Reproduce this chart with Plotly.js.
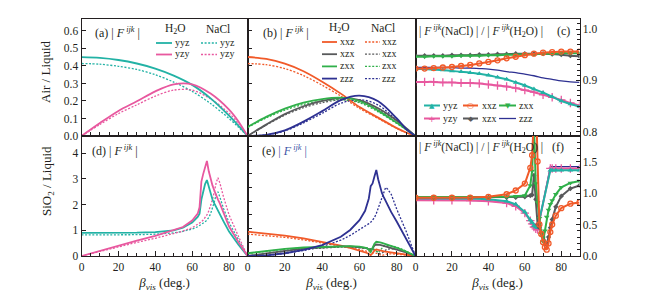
<!DOCTYPE html>
<html><head><meta charset="utf-8">
<script src="https://cdn.plot.ly/plotly-3.0.1.min.js"></script>
<style>html,body{margin:0;padding:0;background:#fff}#chart{width:669px;height:300px}</style>
</head><body><div id="chart"></div>
<script>
// ---------- data ----------
// top panels (a),(b): beta_vis grid, deg.
const betaTop = [0,10,20,30,40,50,60,70,80,85,90];
// (a) Air/Liquid |F|
const a_yyz_H2O  = [0.450,0.446,0.434,0.414,0.385,0.345,0.292,0.215,0.116,0.060,0];
const a_yyz_NaCl = [0.414,0.410,0.398,0.380,0.350,0.308,0.255,0.185,0.100,0.051,0];
const a_yzy_H2O  = [0,0.074,0.143,0.198,0.255,0.295,0.295,0.242,0.150,0.084,0];
const a_yzy_NaCl = [0,0.066,0.128,0.178,0.228,0.262,0.262,0.212,0.130,0.072,0];
// (b)
const b_xxz_H2O  = [0.451,0.440,0.413,0.370,0.310,0.242,0.165,0.105,0.045,0.020,0];
const b_xxz_NaCl = [0.414,0.407,0.385,0.345,0.290,0.228,0.157,0.100,0.043,0.019,0];
const b_xzx_H2O  = [0,0.065,0.125,0.170,0.200,0.218,0.205,0.158,0.088,0.045,0];
const b_xzx_NaCl = [0,0.062,0.119,0.162,0.190,0.207,0.195,0.150,0.084,0.043,0];
const b_zxx_H2O  = [0.051,0.109,0.156,0.190,0.211,0.219,0.200,0.145,0.075,0.038,0];
const b_zxx_NaCl = [0.048,0.103,0.148,0.180,0.200,0.208,0.190,0.138,0.071,0.036,0];
const b_zzz_H2O  = [0,0.007,0.032,0.082,0.142,0.205,0.230,0.198,0.100,0.040,0];
const b_zzz_NaCl = [0,0.006,0.029,0.075,0.130,0.187,0.208,0.177,0.089,0.036,0];
// (c) ratio NaCl/H2O, Air/Liquid
const betaC = [0,5,10,15,20,25,30,35,40,45,50,55,60,65,70,75,80,85,90];
const c_yyz = [0.922,0.922,0.921,0.920,0.918,0.917,0.915,0.913,0.910,0.906,0.902,0.896,0.890,0.883,0.876,0.868,0.860,0.854,0.849];
const c_yzy = [0.897,0.897,0.897,0.896,0.896,0.895,0.895,0.894,0.892,0.890,0.888,0.885,0.881,0.877,0.872,0.867,0.862,0.856,0.851];
const c_xxz = [0.923,0.923,0.924,0.925,0.926,0.928,0.930,0.933,0.936,0.939,0.943,0.946,0.949,0.952,0.954,0.955,0.956,0.956,0.956];
const c_xzx = [0.948,0.948,0.948,0.948,0.949,0.949,0.949,0.950,0.950,0.951,0.951,0.952,0.952,0.952,0.952,0.951,0.950,0.948,0.947];
const c_zxx = [0.946,0.946,0.947,0.947,0.947,0.948,0.948,0.948,0.949,0.949,0.950,0.950,0.951,0.951,0.952,0.952,0.953,0.953,0.953];
const c_zzz = [0.925,0.925,0.925,0.925,0.925,0.924,0.924,0.923,0.922,0.920,0.917,0.915,0.912,0.909,0.905,0.902,0.899,0.897,0.896];
// bottom panels (d),(e),(f): SiO2/Liquid
const betaBot = [0,10,20,30,40,50,55,60,63,64,65,66,67,68,69,70,71,72,73,74,75,77,80,85,90];
const d_yyz_H2O  = [0.90,0.90,0.90,0.91,0.93,1.00,1.10,1.30,1.52,1.65,2.20,2.55,2.80,2.96,2.70,2.40,2.20,2.05,1.90,1.78,1.65,1.35,0.95,0.45,0];
const d_yyz_NaCl = [0.82,0.82,0.82,0.83,0.85,0.90,0.96,1.05,1.14,1.18,1.22,1.27,1.33,1.40,1.50,1.65,1.85,2.10,2.40,2.50,2.30,1.85,1.30,0.62,0];
const d_yzy_H2O  = [0,0.21,0.42,0.60,0.78,1.00,1.13,1.38,1.65,1.90,2.90,3.20,3.45,3.70,3.30,3.00,2.75,2.55,2.35,2.20,2.05,1.70,1.15,0.55,0];
const d_yzy_NaCl = [0,0.18,0.36,0.53,0.69,0.87,0.97,1.10,1.22,1.27,1.33,1.40,1.48,1.60,1.75,1.95,2.20,2.50,2.85,3.05,2.85,2.30,1.60,0.78,0];
const e_xxz_H2O  = [0.89,0.82,0.74,0.64,0.52,0.38,0.30,0.21,0.14,0.11,0.07,0.03,0.10,0.20,0.24,0.23,0.21,0.19,0.17,0.16,0.14,0.12,0.09,0.04,0];
const e_xxz_NaCl = [0.80,0.75,0.68,0.59,0.48,0.36,0.30,0.23,0.19,0.17,0.16,0.15,0.14,0.12,0.10,0.07,0.04,0.02,0.04,0.06,0.08,0.08,0.07,0.035,0];
const e_xzx_H2O  = [0,0.10,0.19,0.27,0.32,0.35,0.35,0.33,0.30,0.28,0.25,0.20,0.28,0.38,0.42,0.42,0.41,0.39,0.37,0.36,0.34,0.31,0.25,0.13,0];
const e_xzx_NaCl = [0,0.095,0.18,0.25,0.30,0.33,0.33,0.31,0.29,0.28,0.27,0.26,0.25,0.22,0.18,0.13,0.08,0.10,0.17,0.22,0.25,0.26,0.24,0.14,0];
const e_zxx_H2O  = [0.10,0.19,0.26,0.31,0.34,0.36,0.36,0.34,0.31,0.29,0.22,0.14,0.30,0.45,0.52,0.52,0.50,0.48,0.46,0.44,0.42,0.38,0.30,0.16,0];
const e_zxx_NaCl = [0.09,0.18,0.25,0.29,0.32,0.34,0.34,0.32,0.30,0.29,0.28,0.27,0.26,0.24,0.17,0.12,0.20,0.30,0.36,0.38,0.38,0.37,0.325,0.185,0];
const e_zzz_H2O  = [0,0.02,0.10,0.22,0.40,0.70,0.95,1.31,1.65,1.85,2.10,2.55,2.65,2.90,3.14,2.80,2.50,2.30,2.15,2.00,1.86,1.60,1.25,0.65,0];
const e_zzz_NaCl = [0,0.02,0.09,0.20,0.34,0.58,0.75,0.95,1.08,1.13,1.18,1.23,1.30,1.40,1.55,1.75,1.95,2.15,2.35,2.50,2.45,2.25,1.70,0.90,0];
const f_yyz = [0.915,0.915,0.914,0.912,0.900,0.870,0.820,0.700,0.570,0.530,0.480,0.460,0.450,null,null,null,null,null,null,1.36,1.36,1.36,1.36,1.36,1.36];
const f_yzy = [0.885,0.885,0.884,0.880,0.870,0.840,0.790,0.680,0.560,0.510,0.460,0.430,0.420,null,null,null,null,null,null,1.39,1.39,1.39,1.39,1.39,1.39];
const f_zzz = [0.890,0.890,0.888,0.885,0.875,0.845,0.800,0.690,0.560,0.500,0.450,0.420,0.410,null,null,null,null,null,null,1.42,1.42,1.42,1.42,1.42,1.42];
const f_xxz = [0.925,0.925,0.925,0.928,0.940,0.980,1.040,1.150,1.400,1.600,2.200,2.600,1.500,0.500,0.350,0.220,0.140,0.100,0.200,0.380,0.500,0.640,0.760,0.830,0.850];
const f_zxx = [0.935,0.935,0.935,0.935,0.935,0.940,0.950,0.960,1.120,1.350,2.100,1.150,0.850,0.600,0.350,0.230,0.400,0.620,0.730,0.820,0.880,0.980,1.090,1.160,1.190];
const f_xzx = [0.930,0.930,0.930,0.930,0.930,0.930,0.930,0.940,0.960,0.970,1.280,0.900,0.500,0.450,0.380,0.300,0.220,0.180,0.300,0.450,0.580,0.780,0.950,1.070,1.120];
const xTicks = [0,20,40,60,80];

// ---------- style ----------
const W = 669, H = 300;
const PX = v => v / W, PY = v => 1 - v / H;
const FONT = 'Liberation Serif, Times New Roman, serif';
const INK = '#231f20';
const C = {teal:'#22b2a5', pink:'#e8589f', orange:'#f15a29', gray:'#58595b', green:'#30b04a', navy:'#2e3192'};
const DOT = '2px,1.6px';
const cols = [[81.5,247.5],[247.5,415.5],[415.5,579.5]];
const rows = [[18.5,136],[136,256]];

function ax(n){ return n===1 ? '' : String(n); }
function ln(x, y, n, color, dotted, shape){
  return {type:'scatter', mode:'lines', x, y, xaxis:'x'+ax(n), yaxis:'y'+ax(n), showlegend:false, hoverinfo:'skip',
    connectgaps:true,
    line:{color, width: dotted ? 1.3 : 1.8, dash: dotted ? DOT : 'solid', shape: shape || 'linear', smoothing:0.9}};
}
function mk(x, y, n, color, symbol, size, shape){
  const thin = symbol.indexOf('open') >= 0 || symbol.indexOf('thin') >= 0;
  return {type:'scatter', mode: symbol==='none' ? 'lines' : 'lines+markers', x, y, xaxis:'x'+ax(n), yaxis:'y'+ax(n),
    showlegend:false, hoverinfo:'skip', connectgaps:true,
    line:{color, width: symbol==='none' ? 1.3 : 2, shape: shape || 'linear', smoothing:0.9},
    marker:{symbol: symbol==='none' ? 'circle' : symbol, size, color, line:{color, width: thin ? 1.3 : 0}}};
}

const data = [
  // (a)
  ln(betaTop, a_yyz_NaCl, 1, C.teal, true, 'spline'),
  ln(betaTop, a_yzy_NaCl, 1, C.pink, true, 'spline'),
  ln(betaTop, a_yyz_H2O, 1, C.teal, false, 'spline'),
  ln(betaTop, a_yzy_H2O, 1, C.pink, false, 'spline'),
  // (b)
  ln(betaTop, b_xxz_NaCl, 2, C.orange, true, 'spline'),
  ln(betaTop, b_xzx_NaCl, 2, C.gray, true, 'spline'),
  ln(betaTop, b_zxx_NaCl, 2, C.green, true, 'spline'),
  ln(betaTop, b_zzz_NaCl, 2, C.navy, true, 'spline'),
  ln(betaTop, b_xxz_H2O, 2, C.orange, false, 'spline'),
  ln(betaTop, b_xzx_H2O, 2, C.gray, false, 'spline'),
  ln(betaTop, b_zxx_H2O, 2, C.green, false, 'spline'),
  ln(betaTop, b_zzz_H2O, 2, C.navy, false, 'spline'),
  // (c)
  mk(betaC, c_yzy, 3, C.pink, 'cross-thin', 6, 'spline'),
  mk(betaC, c_yyz, 3, C.teal, 'triangle-up', 5, 'spline'),
  mk(betaC, c_zzz, 3, C.navy, 'none', 0, 'spline'),
  mk(betaC, c_xzx, 3, C.gray, 'diamond', 4, 'spline'),
  mk(betaC, c_zxx, 3, C.green, 'triangle-down', 5, 'spline'),
  mk(betaC, c_xxz, 3, C.orange, 'circle-open', 5, 'spline'),
  // (d)
  ln(betaBot, d_yyz_NaCl, 4, C.teal, true),
  ln(betaBot, d_yzy_NaCl, 4, C.pink, true),
  ln(betaBot, d_yyz_H2O, 4, C.teal, false),
  ln(betaBot, d_yzy_H2O, 4, C.pink, false),
  // (e)
  ln(betaBot, e_xxz_NaCl, 5, C.orange, true),
  ln(betaBot, e_xzx_NaCl, 5, C.gray, true),
  ln(betaBot, e_zxx_NaCl, 5, C.green, true),
  ln(betaBot, e_zzz_NaCl, 5, C.navy, true),
  ln(betaBot, e_xxz_H2O, 5, C.orange, false),
  ln(betaBot, e_xzx_H2O, 5, C.gray, false),
  ln(betaBot, e_zxx_H2O, 5, C.green, false),
  ln(betaBot, e_zzz_H2O, 5, C.navy, false),
  // (f)
  mk(betaBot, f_zzz, 6, C.navy, 'none', 0),
  mk(betaBot, f_yzy, 6, C.pink, 'cross-thin', 6),
  mk(betaBot, f_yyz, 6, C.teal, 'triangle-up', 5),
  mk(betaBot, f_xzx, 6, C.gray, 'diamond', 4),
  mk(betaBot, f_zxx, 6, C.green, 'triangle-down', 5),
  mk(betaBot, f_xxz, 6, C.orange, 'circle-open', 5)
];

const base = {showline:true, mirror:true, linecolor:INK, linewidth:1, ticks:'inside', tickcolor:INK, tickwidth:1,
  showgrid:false, zeroline:false, fixedrange:true, tickfont:{family:FONT, size:11.5, color:INK}};
const xTitle = {text:'<i>β</i><sub><i>vis</i></sub> (deg.)', font:{family:FONT, size:13, color:INK}, standoff:6};

// axes that carry tick labels use major ticks; unlabelled axes draw their ticks as minor ticks only
function xA(n, col, labels){
  const o = Object.assign({}, base, {domain:[PX(cols[col][0]), PX(cols[col][1])], anchor:'y'+ax(n), range:[0,90],
    minor:{ticks:'inside', dtick:5, tick0:0, ticklen: labels ? 3 : 4, tickcolor:INK}});
  if (labels) {
    Object.assign(o, {tickmode:'array', tickvals:xTicks, ticktext:xTicks.map(String), ticklen:5, title:xTitle});
  } else {
    Object.assign(o, {tickmode:'array', tickvals:[], showticklabels:false});
  }
  return o;
}
function yA(n, col, row, range, dtick, fmt, labels, side, minor){
  const o = Object.assign({}, base, {domain:[PY(rows[row][1]), PY(rows[row][0])], anchor:'x'+ax(n), range, side: side || 'left'});
  if (labels) {
    Object.assign(o, {tick0:0, dtick, tickformat:fmt, ticklen:4});
    if (minor) o.minor = {ticks:'inside', dtick:minor, ticklen:2.5, tickcolor:INK};
  } else {
    Object.assign(o, {tickmode:'array', tickvals:[], showticklabels:false,
      minor:{ticks:'inside', dtick, tick0:0, ticklen:4, tickcolor:INK}});
  }
  return o;
}

const layout = {
  width:W, height:H, margin:{l:0,r:0,t:0,b:0}, paper_bgcolor:'#fff', plot_bgcolor:'rgba(0,0,0,0)',
  showlegend:false, font:{family:FONT, color:INK},
  xaxis:  xA(1,0,false), yaxis:  yA(1,0,0,[0,0.671],0.1,'.1f',true),
  xaxis2: xA(2,1,false), yaxis2: yA(2,1,0,[0,0.671],0.1,'.1f',false),
  xaxis3: xA(3,2,false), yaxis3: yA(3,2,0,[0.7916,1.0205],0.1,'.1f',true,'right',0.01),
  xaxis4: xA(4,0,true),  yaxis4: yA(4,0,1,[0,4.675],1,'d',true),
  xaxis5: xA(5,1,true),  yaxis5: yA(5,1,1,[0,4.38],0.5,'.1f',false),
  xaxis6: xA(6,2,true),  yaxis6: yA(6,2,1,[0,1.905],0.5,'.1f',true,'right',0.1)
};

const Fijk = '<i>F</i><sup> <i>ijk</i></sup>';
function note(text, x, y, opt){
  return Object.assign({text, x:PX(x), y:PY(y), xref:'paper', yref:'paper', showarrow:false,
    xanchor:'left', yanchor:'middle', borderpad:0, font:{family:FONT, size:12, color:INK}}, opt || {});
}
const LF = {family:FONT, size:10, color:INK};
function lg(text, x, y){ return note(text, x, y, {font:LF}); }
function glyph(ch, x, y, color, size){
  return note(ch, x, y, {xanchor:'center', font:{family:'DejaVu Sans', size:size || 7, color}});
}
function key(x0, x1, y, color, dotted, width){
  return {type:'line', xref:'paper', yref:'paper', x0:PX(x0), x1:PX(x1), y0:PY(y), y1:PY(y),
    line:{color, width: width || (dotted ? 1.3 : 1.8), dash: dotted ? DOT : 'solid'}};
}
const ratioText = '| ' + Fijk + '(NaCl) | / | ' + Fijk + '(H<sub>2</sub>O) |';

layout.annotations = [
  // y titles
  note('Air / Liquid', 45, 72, {xanchor:'center', textangle:-90, font:{family:FONT, size:13, color:INK}}),
  note('SiO<sub>2</sub> / Liquid', 47, 181, {xanchor:'center', textangle:-90, font:{family:FONT, size:13, color:INK}}),
  // panel labels
  note('(a) | ' + Fijk + ' |', 94, 32),
  note('(b) | ' + Fijk + ' |', 262, 32),
  note(ratioText, 418, 31, {font:{family:FONT, size:11.5, color:INK}}),
  note('(c)', 563, 31, {xanchor:'center'}),
  note('(d) | ' + Fijk + ' |', 91, 150),
  note('(e) <span style="color:#3b55a6">| ' + Fijk + ' |</span>', 261, 150),
  note(ratioText, 418, 147, {font:{family:FONT, size:11.5, color:INK}}),
  note('(f)', 558, 147, {xanchor:'center'}),
  // legend (a)
  note('H<sub>2</sub>O', 175, 29, {xanchor:'center', font:{family:FONT, size:11.5, color:INK}}),
  note('NaCl', 218, 29, {xanchor:'center', font:{family:FONT, size:11.5, color:INK}}),
  lg('yyz', 174, 42.3), lg('yzy', 174, 53.8),
  lg('yyz', 218.5, 42.3), lg('yzy', 218.5, 53.8),
  // legend (b)
  note('H<sub>2</sub>O', 339, 28.5, {xanchor:'center', font:{family:FONT, size:11.5, color:INK}}),
  note('NaCl', 383, 27.5, {xanchor:'center', font:{family:FONT, size:11.5, color:INK}}),
  lg('xxz', 338.5, 41.6), lg('xzx', 338.5, 53.8), lg('zxx', 338.5, 66), lg('zzz', 338.5, 78.2),
  lg('xxz', 381, 41.6), lg('xzx', 381, 53.8), lg('zxx', 381, 66), lg('zzz', 381, 78.2),
  // legend (c)
  lg('yyz', 442, 105), lg('xxz', 480.5, 105), lg('zxx', 518, 105),
  lg('yzy', 442, 118), lg('xzx', 480.5, 118), lg('zzz', 518, 118),
  glyph('▲', 432, 105.5, C.teal), glyph('○', 470.5, 105.5, C.orange, 8), glyph('▼', 507.5, 105.5, C.green),
  glyph('+', 432, 118.5, C.pink, 9), glyph('◆', 470.5, 118.5, C.gray, 7)
];

layout.shapes = [
  key(156,172,43,C.teal,false), key(156,172,54.5,C.pink,false),
  key(201,217,43,C.teal,true),  key(201,217,54.5,C.pink,true),
  key(322,337,42,C.orange,false), key(322,337,54.2,C.gray,false), key(322,337,66.4,C.green,false), key(322,337,78.6,C.navy,false),
  key(365,380,42,C.orange,true),  key(365,380,54.2,C.gray,true),  key(365,380,66.4,C.green,true),  key(365,380,78.6,C.navy,true),
  key(424,440,105.5,C.teal,false,2), key(463,478,105.5,C.orange,false,2), key(499,516,105.5,C.green,false,2),
  key(424,440,118.5,C.pink,false,2), key(463,478,118.5,C.gray,false,2), key(499,516,118.5,C.navy,false,1.3)
];

Plotly.newPlot('chart', data, layout, {staticPlot:true, displayModeBar:false});
</script></body></html>
